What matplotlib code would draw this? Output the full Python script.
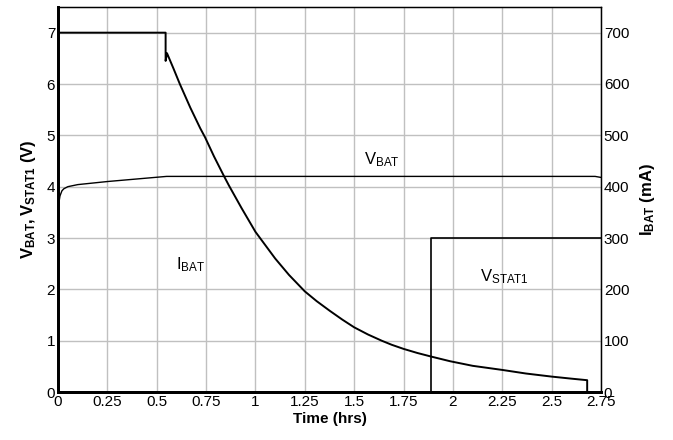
import matplotlib
matplotlib.use('Agg')
import matplotlib.pyplot as plt

plt.rcParams['font.family'] = ['Liberation Sans', 'DejaVu Sans']
plt.rcParams['mathtext.fontset'] = 'custom'
plt.rcParams['mathtext.rm'] = 'Liberation Sans'
plt.rcParams['mathtext.bf'] = 'Liberation Sans:bold'
plt.rcParams['mathtext.it'] = 'Liberation Sans:italic'

# battery current (mA)
t_ibat = [0, 0.545, 0.545, 0.552, 0.585, 0.617, 0.67, 0.72, 0.745, 0.79, 0.84, 0.866,
          0.93, 1.0, 1.1, 1.17, 1.25, 1.31, 1.377, 1.44, 1.5, 1.57, 1.639, 1.69,
          1.75, 1.82, 1.89, 1.985, 2.1, 2.25, 2.37, 2.5, 2.6, 2.68, 2.68, 2.75]
ibat = [700, 700, 645, 660, 630, 600, 554, 514, 496, 459, 421, 402,
        358, 312, 260, 228, 196, 177, 158, 141, 126, 112, 100, 92,
        84, 76, 69, 60, 51, 43, 36, 30, 26, 23, 0, 0]

# battery voltage (V)
t_vbat = [0, 0.005, 0.01, 0.02, 0.03, 0.05, 0.1, 0.25, 0.4, 0.55, 1.0, 2.0, 2.72, 2.75]
vbat = [3.5, 3.7, 3.82, 3.92, 3.96, 4.0, 4.04, 4.1, 4.15, 4.2, 4.2, 4.2, 4.2, 4.18]

# status pin voltage (V)
t_stat = [0, 1.89, 1.89, 2.75]
vstat = [0, 0, 3, 3]

xticks = [0, 0.25, 0.5, 0.75, 1, 1.25, 1.5, 1.75, 2, 2.25, 2.5, 2.75]
xticklabels = ['0', '0.25', '0.5', '0.75', '1', '1.25', '1.5', '1.75', '2', '2.25', '2.5', '2.75']

fig = plt.figure(figsize=(6.73, 4.4), dpi=100)
ax = fig.add_axes([58 / 673, 48 / 440, 543 / 673, 385 / 440])
ax2 = ax.twinx()

ax.plot(t_vbat, vbat, color='black', lw=1.0)
ax.plot(t_stat, vstat, color='black', lw=1.2)
ax2.plot(t_ibat, ibat, color='black', lw=1.4)

ax.set_xlim(0, 2.75)
ax.set_ylim(0, 7.5)
ax2.set_ylim(0, 750)
ax.set_xticks(xticks)
ax.set_xticklabels(xticklabels)
ax.set_yticks(range(0, 8))
ax2.set_yticks(range(0, 800, 100))

ax.grid(True, color='#c0c0c0', lw=1.0)
ax.set_axisbelow(True)
ax.tick_params(length=0, labelsize=11, pad=2)
ax2.tick_params(length=0, labelsize=11, pad=2)

for s in ['left', 'bottom']:
    ax.spines[s].set_linewidth(2)
ax.spines['top'].set_linewidth(1)
ax2.spines['right'].set_linewidth(1)
ax2.spines['left'].set_linewidth(2)
ax2.spines['bottom'].set_linewidth(2)

ax.set_xlabel('Time (hrs)', fontsize=11, fontweight='bold', labelpad=2)
ax.set_ylabel(r'$\mathbf{V_{BAT}, V_{STAT1}}$ $\mathbf{(V)}$', fontsize=12, labelpad=6)
ax2.set_ylabel(r'$\mathbf{I_{BAT}}$ $\mathbf{(mA)}$', fontsize=12, labelpad=6)

ax.text(1.64, 4.52, r'$\mathrm{V_{BAT}}$', fontsize=12, ha='center', va='center')
ax.text(0.67, 2.48, r'$\mathrm{I_{BAT}}$', fontsize=12, ha='center', va='center')
ax.text(2.26, 2.24, r'$\mathrm{V_{STAT1}}$', fontsize=12, ha='center', va='center')

fig.savefig('out.png', dpi=100)
